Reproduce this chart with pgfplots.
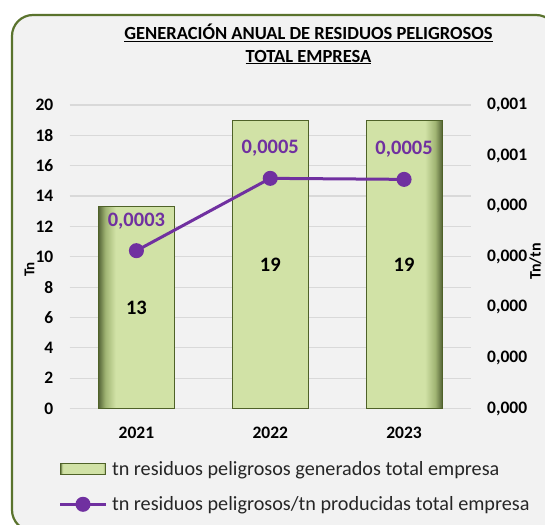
\documentclass[border=0pt]{standalone}
\usepackage{pgfplots}
\pgfplotsset{compat=1.18}
\usepackage{fontspec}
\setmainfont{Carlito}
\definecolor{frameCol}{RGB}{90,115,45}
\definecolor{bgCol}{RGB}{242,242,242}
\definecolor{gridCol}{RGB}{217,217,217}
\definecolor{barFill}{RGB}{209,226,166}
\definecolor{barMid}{RGB}{160,180,115}
\definecolor{barDark}{RGB}{85,100,55}
\definecolor{barEdge}{RGB}{79,98,40}
\definecolor{lineCol}{RGB}{112,48,160}
\pgfdeclarehorizontalshading{bevelh}{100bp}{color(0bp)=(barDark); color(25bp)=(barDark); color(26bp)=(barMid); color(27.5bp)=(barFill); color(72.5bp)=(barFill); color(74bp)=(barMid); color(75bp)=(barDark); color(100bp)=(barDark)}
\newcommand{\tickfont}{\fontsize{17.5bp}{21bp}\selectfont\bfseries}
\newcommand{\datafont}{\fontsize{20.5bp}{24bp}\selectfont\bfseries}
\newcommand{\legfont}{\fontsize{20.2bp}{24bp}\selectfont}
\newcommand{\titlefont}{\fontsize{18.5bp}{22.5bp}\selectfont\bfseries}
\newcommand{\labfontL}{\fontsize{15bp}{18bp}\selectfont\bfseries}
\newcommand{\labfontR}{\fontsize{16bp}{19bp}\selectfont\bfseries}
\pgfplotsset{/pgf/number format/assume math mode=true}
\pgfplotsset{
  barleg/.style={legend image code/.code={\draw[shade, shading=bevelh, draw=barEdge, line width=0.7bp] (0bp,-5.5bp) rectangle (45bp,5.5bp);}},
  lineleg/.style={legend image code/.code={\draw[mark repeat=2,mark phase=2,##1] plot coordinates {(0bp,0bp) (22.5bp,0bp) (45bp,0bp)};}},
}
\begin{document}
\begin{tikzpicture}
\useasboundingbox (0,0) rectangle (545bp,-525bp);
\clip (0,0) rectangle (545bp,-525bp);
\fill[white] (0,0) rectangle (545bp,-525bp);
\draw[frameCol, line width=2.2bp, fill=bgCol, rounded corners=21bp] (12bp,-15bp) rectangle (557bp,-531bp);
\node[anchor=base, font=\titlefont, inner sep=0pt] at (308.5bp,-39.5bp) {\underline{GENERACIÓN ANUAL DE RESIDUOS PELIGROSOS}};
\node[anchor=base, font=\titlefont, inner sep=0pt] at (308.5bp,-62bp) {\underline{TOTAL EMPRESA}};
\begin{axis}[
  at={(69.5bp,-408.5bp)}, anchor=south west,
  scale only axis, width=401.5bp, height=303.5bp,
  xmin=-0.5, xmax=2.5, ymin=0, ymax=20,
  xtick={0,1,2}, xticklabels={2021,2022,2023},
  ytick={0,2,4,6,8,10,12,14,16,18,20},
  axis line style={draw=none},
  major tick length=0pt,
  ymajorgrids, grid style={gridCol, line width=1.2bp},
  tick label style={font=\tickfont, text=black},
  yticklabel style={anchor=east, inner sep=0pt, xshift=-16bp},
  xticklabel style={anchor=north, inner sep=0pt, yshift=-18bp},
  ylabel={Tn}, ylabel style={font=\labfontL, at={(axis description cs:-0.0996,0.458)}, anchor=center, inner sep=0pt},
  clip=false,
]
\addplot[ybar, bar width=76bp, shade, shading=bevelh, draw=barEdge, line width=0.7bp,
  visualization depends on={y \as \rawy},
  nodes near coords={\pgfmathprintnumber[fixed,precision=0]{\pgfplotspointmeta}},
  nodes near coords style={anchor=center, font=\datafont, text=black, shift={(axis direction cs:0,-\rawy/2)}},
] coordinates {(0,13.3) (1,19.0) (2,19.0)};
\end{axis}
\begin{axis}[
  at={(69.5bp,-408.5bp)}, anchor=south west,
  scale only axis, width=401.5bp, height=303.5bp,
  xmin=-0.5, xmax=2.5, ymin=0, ymax=0.0006,
  axis x line=none, axis y line*=right,
  axis line style={draw=none},
  major tick length=0pt,
  scaled y ticks=false,
  ytick={0,0.0001,0.0002,0.0003,0.0004,0.0005,0.0006},
  yticklabels={{0,000},{0,000},{0,000},{0,000},{0,000},{0,001},{0,001}},
  yticklabel style={anchor=west, inner sep=0pt, xshift=16bp, font=\tickfont, text=black},
  ylabel={Tn/tn}, ylabel style={font=\labfontR, at={(axis description cs:1.1606,0.4843)}, anchor=center, inner sep=0pt},
  clip=false,
  legend cell align=left,
  legend style={at={(axis description cs:-0.02615,-0.173)}, anchor=north west, draw=none, fill=none, inner sep=0pt, outer sep=0pt, row sep=20bp, font=\legfont, text=black!85, nodes={inner sep=0pt}, /tikz/every odd column/.append style={column sep=5bp}},
]
\addlegendimage{barleg}
\addlegendentry{tn residuos peligrosos generados total empresa}
\addplot[lineCol, line width=3bp, mark=*, mark size=6bp, mark options={solid, fill=lineCol},
  nodes near coords={\pgfmathprintnumber[fixed,fixed zerofill,precision=4,use comma]{\pgfplotspointmeta}},
  nodes near coords style={anchor=center, yshift=30bp, font=\datafont, text=lineCol},
  lineleg,
] coordinates {(0,0.000312) (1,0.000455) (2,0.000453)};
\addlegendentry{tn residuos peligrosos/tn producidas total empresa}
\end{axis}
\end{tikzpicture}
\end{document}
